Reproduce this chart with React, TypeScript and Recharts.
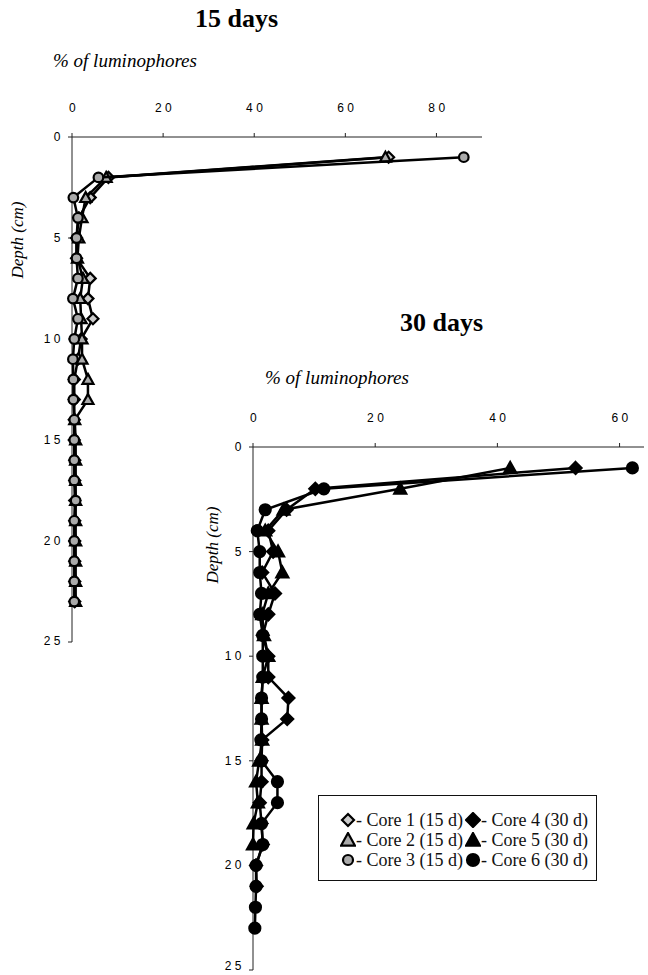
import React from 'react';
import { ScatterChart, Scatter, XAxis, YAxis } from 'recharts';

// depth of each slice (cm)
const depth = [1, 2, 3, 4, 5, 6, 7, 8, 9, 10, 11, 12, 13, 14, 15, 16, 17, 18, 19, 20, 21, 22, 23];

// 15 days, % of luminophores per slice
const core1 = [69.5, 8, 4, 1.5, 1, 1, 4, 3.5, 4.6, 2, 1.3, 0.5, 0.5, 0.5, 0.5, 0.6, 0.6, 0.6, 0.6, 0.6, 0.6, 0.6, 0.6];
const core2 = [68.8, 7.5, 3, 2.2, 1.5, 1.2, 2.4, 1.8, 2, 2.2, 2.2, 3.5, 3.5, 0.6, 0.8, 0.8, 0.8, 0.8, 0.8, 0.8, 0.8, 0.8, 0.8];
const core3 = [86, 5.8, 0.3, 1.3, 1, 1, 1.3, 0.2, 1.3, 0.5, 0.2, 0.3, 0.3, 0.5, 0.5, 0.5, 0.5, 0.8, 0.5, 0.5, 0.5, 0.5, 0.5];

// 30 days
const core4 = [52.8, 10.2, 5.5, 2.5, 3.3, 1.5, 3.6, 2.5, 1.6, 2.5, 2.5, 5.8, 5.6, 1.5, 1.4, 1.4, 1.1, 1.4, 1.6, 0.5, 0.6];
const core5 = [42.1, 24.1, 5, 2, 4.1, 4.8, 2.5, 1.5, 1.8, 2.5, 1.6, 1.4, 1.4, 1.5, 1.0, 0.5, 0.8, 0.1, 0];
const core6 = [62.1, 11.6, 2.0, 0.7, 1.1, 1.1, 1.4, 1.1, 1.6, 1.6, 1.6, 1.4, 1.4, 1.3, 1.4, 4.0, 4.0, 1.4, 1.6, 0.5, 0.5, 0.4, 0.3];

const xTicks15 = [0, 20, 40, 60, 80];
const xTicks30 = [0, 20, 40, 60];
const depthTicks = [0, 5, 10, 15, 20, 25];

const toPoints = (vals: number[]) => vals.map((v, i) => ({ x: v, y: depth[i] }));

const serif = '"Liberation Serif", "Times New Roman", serif';
const sans = '"Liberation Sans", Arial, sans-serif';

const diamond = (fill: string, r = 5.5) => (p: any) => (
  <path d={`M${p.cx},${p.cy - r}L${p.cx + r},${p.cy}L${p.cx},${p.cy + r}L${p.cx - r},${p.cy}Z`} fill={fill} stroke="#000" strokeWidth={2.2} />
);
const triangle = (fill: string, r = 5.5) => (p: any) => (
  <path d={`M${p.cx},${p.cy - r}L${p.cx + r},${p.cy + r * 0.8}L${p.cx - r},${p.cy + r * 0.8}Z`} fill={fill} stroke="#000" strokeWidth={2.2} />
);
const circle = (fill: string, r = 4.8) => (p: any) => (
  <circle cx={p.cx} cy={p.cy} r={r} fill={fill} stroke="#000" strokeWidth={2.2} />
);

const XTick = (p: any) => (
  <text x={p.x + 2} y={p.y} textAnchor="middle" fontFamily={sans} fontSize={12} fill="#000" style={{ letterSpacing: 3.5 }}>
    {p.payload.value}
  </text>
);
const YTick = (p: any) => (
  <text x={p.x + 2} y={p.y + 4} textAnchor="end" fontFamily={sans} fontSize={12} fill="#000" style={{ letterSpacing: 3.5 }}>
    {p.payload.value}
  </text>
);

const legendRows = [
  ['Core 1 (15 d)', 'Core 4 (30 d)'],
  ['Core 2 (15 d)', 'Core 5 (30 d)'],
  ['Core 3 (15 d)', 'Core 6 (30 d)'],
];

const LegendBox = () => {
  const icons = [
    [diamond('#ccc', 6), diamond('#000', 7)],
    [triangle('#aaa', 7), triangle('#000', 7)],
    [circle('#aaa', 5), circle('#000', 6)],
  ];
  return (
    <div style={{ width: 279, height: 86, border: '1.5px solid #111', boxSizing: 'border-box', fontFamily: serif, fontSize: 18, color: '#111', padding: '14px 0 0 21px' }}>
      {legendRows.map((row, i) => (
        <div key={i} style={{ display: 'flex', height: 20, alignItems: 'center' }}>
          {row.map((label, j) => (
            <span key={j} style={{ display: 'flex', alignItems: 'center', marginRight: 2 }}>
              <svg width={16} height={16}>{icons[i][j]({ cx: 8, cy: 8 })}</svg>
              <span>- {label}</span>
            </span>
          ))}
        </div>
      ))}
    </div>
  );
};

const abs = (s: React.CSSProperties): React.CSSProperties => ({ position: 'absolute', margin: 0, ...s });

export default function App() {
  const lineStyle = { stroke: '#000', strokeWidth: 2.5 };
  return (
    <div style={{ position: 'absolute', left: 0, top: 0, width: 648, height: 975, background: '#fff', overflow: 'hidden' }}>
      <div style={abs({ left: 195, top: 4, fontFamily: serif, fontWeight: 'bold', fontSize: 26 })}>15 days</div>
      <div style={abs({ left: 53, top: 50, fontFamily: serif, fontStyle: 'italic', fontSize: 19 })}>% of luminophores</div>
      <div style={abs({ left: 18, top: 240, fontFamily: serif, fontStyle: 'italic', fontSize: 17, transform: 'translate(-50%, -50%) rotate(-90deg)', whiteSpace: 'nowrap' })}>Depth (cm)</div>

      <div style={abs({ left: 400, top: 308, fontFamily: serif, fontWeight: 'bold', fontSize: 26 })}>30 days</div>
      <div style={abs({ left: 265, top: 367, fontFamily: serif, fontStyle: 'italic', fontSize: 19 })}>% of luminophores</div>
      <div style={abs({ left: 213, top: 545, fontFamily: serif, fontStyle: 'italic', fontSize: 17, transform: 'translate(-50%, -50%) rotate(-90deg)', whiteSpace: 'nowrap' })}>Depth (cm)</div>

      <div style={abs({ left: 0, top: 0 })}>
        <ScatterChart width={492} height={650} margin={{ top: 100, right: 10, bottom: 8, left: 0 }}>
          <XAxis type="number" dataKey="x" orientation="top" domain={[0, 90]} ticks={xTicks15} height={37}
            axisLine={{ stroke: '#222' }} tickLine={{ stroke: '#222' }} tickSize={4} tickMargin={21} tick={<XTick />} />
          <YAxis type="number" dataKey="y" reversed domain={[0, 25]} ticks={depthTicks} width={72}
            axisLine={{ stroke: '#222' }} tickLine={{ stroke: '#222' }} tickSize={4} tickMargin={6} tick={<YTick />} />
          <Scatter data={toPoints(core1)} line={lineStyle} shape={diamond('#ccc')} isAnimationActive={false} />
          <Scatter data={toPoints(core2)} line={lineStyle} shape={triangle('#aaa')} isAnimationActive={false} />
          <Scatter data={toPoints(core3)} line={lineStyle} shape={circle('#aaa')} isAnimationActive={false} />
        </ScatterChart>
      </div>

      <div style={abs({ left: 180, top: 380 })}>
        <ScatterChart width={468} height={595} margin={{ top: 30, right: 4, bottom: 5, left: 0 }}>
          <XAxis type="number" dataKey="x" orientation="top" domain={[0, 64]} ticks={xTicks30} height={37}
            axisLine={{ stroke: '#222' }} tickLine={{ stroke: '#222' }} tickSize={4} tickMargin={21} tick={<XTick />} />
          <YAxis type="number" dataKey="y" reversed domain={[0, 25]} ticks={depthTicks} width={73}
            axisLine={{ stroke: '#222' }} tickLine={{ stroke: '#222' }} tickSize={4} tickMargin={6} tick={<YTick />} />
          <Scatter data={toPoints(core4)} line={lineStyle} shape={diamond('#000', 6)} isAnimationActive={false} />
          <Scatter data={toPoints(core5)} line={lineStyle} shape={triangle('#000', 6)} isAnimationActive={false} />
          <Scatter data={toPoints(core6)} line={lineStyle} shape={circle('#000', 5.5)} isAnimationActive={false} />
        </ScatterChart>
      </div>

      <div style={abs({ left: 318, top: 795 })}>
        <LegendBox />
      </div>
    </div>
  );
}
